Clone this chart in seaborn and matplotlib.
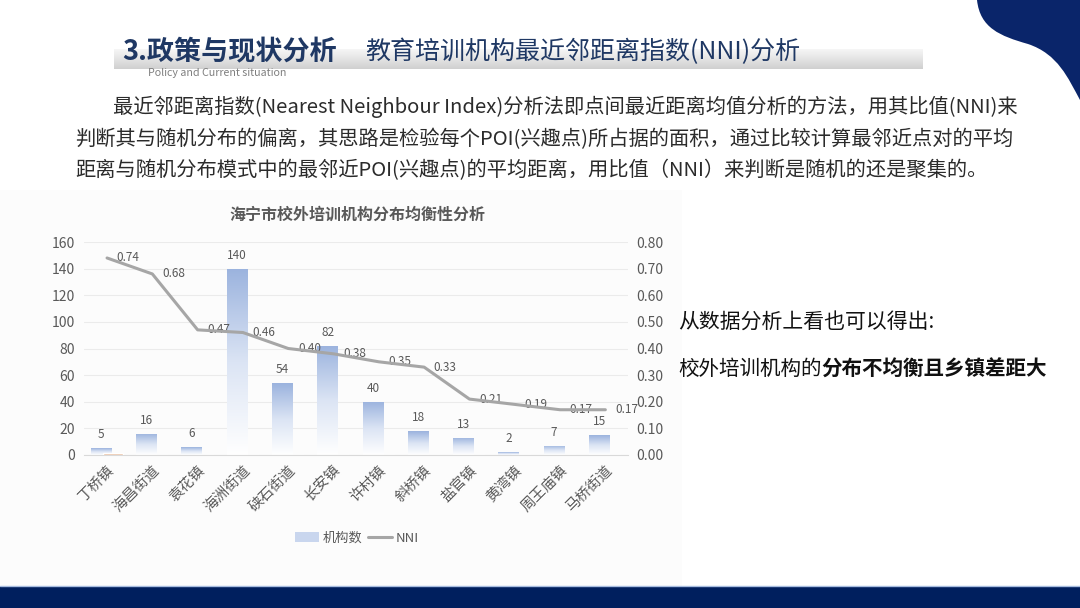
import numpy as np
import pandas as pd
import seaborn as sns
import matplotlib.pyplot as plt
from matplotlib.patches import Rectangle, PathPatch, Patch
from matplotlib.path import Path
from matplotlib.lines import Line2D
from matplotlib.colors import LinearSegmentedColormap

# %% data
towns = ['丁桥镇', '海昌街道', '袁花镇', '海洲街道', '硖石街道', '长安镇',
         '许村镇', '斜桥镇', '盐官镇', '黄湾镇', '周王庙镇', '马桥街道']
counts = [5, 16, 6, 140, 54, 82, 40, 18, 13, 2, 7, 15]
nni = [0.74, 0.68, 0.47, 0.46, 0.40, 0.38, 0.35, 0.33, 0.21, 0.19, 0.17, 0.17]
other = [1.2, 0, 0, 0, 0, 0, 0, 0, 0, 0, 0, 0]
left_ticks = [0, 20, 40, 60, 80, 100, 120, 140, 160]
right_ticks = [0.0, 0.1, 0.2, 0.3, 0.4, 0.5, 0.6, 0.7, 0.8]

df = pd.DataFrame({'town': towns, '机构数': counts, 'NNI': nni, 'other': other})
df['idx'] = np.arange(len(towns))

sns.set_style('white')
plt.rcParams['font.family'] = ['Noto Sans CJK SC', 'DejaVu Sans']

W, H = 1080, 608
fig = plt.figure(figsize=(W / 100, H / 100), dpi=100)
fig.patch.set_facecolor('white')

# %% slide background (pixel coordinates)
bg = fig.add_axes([0, 0, 1, 1], zorder=0)
bg.set_xlim(0, W)
bg.set_ylim(H, 0)
bg.axis('off')

# faint panel behind chart
bg.add_patch(Rectangle((0, 190), 682, 396, color='#fcfcfc', lw=0))

# title band
band = np.linspace(0, 1, 64).reshape(-1, 1)
band_cmap = LinearSegmentedColormap.from_list('band', ['#f6f6f6', '#e4e4e4', '#d0d0d0'])
bg.imshow(band, cmap=band_cmap, extent=(114, 923, 69, 49), origin='upper',
          aspect='auto', zorder=1)

# navy corner shape
verts = [(977, 0), (980, 28), (1000, 36), (1028, 44),
         (1058, 54), (1068, 78), (1080, 100), (1080, 0), (977, 0)]
codes = [Path.MOVETO, Path.CURVE4, Path.CURVE4, Path.CURVE4,
         Path.CURVE4, Path.CURVE4, Path.CURVE4, Path.LINETO, Path.CLOSEPOLY]
bg.add_patch(PathPatch(Path(verts, codes), color='#0a256a', lw=0, zorder=2))

# bottom band
bg.add_patch(Rectangle((0, 586), W, 22, color='#001f5e', lw=0, zorder=2))
bg.plot([0, W], [586, 586], color='#a8bde0', lw=1, zorder=3)

navy = '#1f3864'
bg.text(122, 52, '3.政策与现状分析', fontsize=19.5, fontweight='bold', color=navy,
        va='center', ha='left', zorder=4)
bg.text(365, 52, '教育培训机构最近邻距离指数(NNI)分析', fontsize=18, fontweight='medium',
        color=navy, va='center', ha='left', zorder=4)
bg.text(148, 73, 'Policy and Current situation', fontsize=7.7, color='#7f7f7f',
        va='center', ha='left', zorder=4)

para = ['最近邻距离指数(Nearest Neighbour Index)分析法即点间最近距离均值分析的方法，用其比值(NNI)来',
        '判断其与随机分布的偏离，其思路是检验每个POI(兴趣点)所占据的面积，通过比较计算最邻近点对的平均',
        '距离与随机分布模式中的最邻近POI(兴趣点)的平均距离，用比值（NNI）来判断是随机的还是聚集的。']
for k, line in enumerate(para):
    bg.text(113 if k == 0 else 75, 107 + 32 * k, line, fontsize=14.6, color='#2b2b2b',
            va='center', ha='left', zorder=4)

bg.text(678, 322, '从数据分析上看也可以得出:', fontsize=15, color='#111111',
        va='center', ha='left', zorder=4)
t1 = bg.text(678, 369, '校外培训机构的', fontsize=14.8, color='#111111',
             va='center', ha='left', zorder=4)
fig.canvas.draw()
bb = t1.get_window_extent().transformed(bg.transData.inverted())
bg.text(bb.x1, 369, '分布不均衡且乡镇差距大', fontsize=14.8, fontweight='bold',
        color='#111111', va='center', ha='left', zorder=4)

# %% chart
x0 = 84.4
step = 45.3
ax = fig.add_axes([x0 / W, (H - 455) / H, step * 12 / W, 213 / H], zorder=3)
ax.patch.set_alpha(0)

sns.barplot(data=df, x='idx', y='机构数', ax=ax, color='#9db4de', width=0.46,
            native_scale=True, zorder=2)
blue_bars = list(ax.patches)
sns.barplot(data=df, x='idx', y='other', ax=ax, color='#f4b183', width=0.44,
            native_scale=True, zorder=3)
orange_bars = [p for p in ax.patches if p not in blue_bars]

bar_cmap = LinearSegmentedColormap.from_list('bar', ['#ffffff', '#dbe4f4', '#9bb3de'])
grad = np.linspace(0, 1, 128).reshape(-1, 1)
for p in blue_bars:
    p.set_x(p.get_x() - 0.13)
    x, w, h = p.get_x(), p.get_width(), p.get_height()
    p.set_facecolor('none')
    p.set_edgecolor('none')
    im = ax.imshow(grad, cmap=bar_cmap, extent=(x, x + w, 0, h), origin='lower',
                   aspect='auto', zorder=2)
    im.set_clip_path(p)
for p in orange_bars:
    p.set_x(p.get_x() + 0.13)

for i, c in enumerate(counts):
    ax.annotate(str(c), (i - 0.13, c), xytext=(0, 5), textcoords='offset points',
                ha='center', va='bottom', fontsize=8.5, color='#595959')

ax.set_xlim(-0.5, 11.5)
ax.set_ylim(0, 160)
ax.set_yticks(left_ticks)
ax.set_xticks(df['idx'])
ax.set_xticklabels(towns, rotation=45, ha='right', rotation_mode='anchor',
                   fontsize=10.5, color='#595959')
ax.tick_params(axis='y', labelsize=10, colors='#595959', length=0, pad=7)
ax.tick_params(axis='x', length=0, pad=6)
ax.yaxis.grid(True, color='#ebebeb', lw=0.8, zorder=0)
ax.set_axisbelow(True)
for s in ['top', 'right', 'left']:
    ax.spines[s].set_visible(False)
ax.spines['bottom'].set_color('#d9d9d9')
ax.set_xlabel('')
ax.set_ylabel('')

ax2 = ax.twinx()
sns.lineplot(data=df, x='idx', y='NNI', ax=ax2, color='#a6a6a6', lw=2.2, zorder=4)
for i, v in enumerate(nni):
    ax2.annotate(f'{v:.2f}', (i, v), xytext=(7, 0), textcoords='offset points',
                 ha='left', va='center', fontsize=8.5, color='#595959')
ax2.set_ylim(0, 0.8)
ax2.set_yticks(right_ticks)
ax2.set_yticklabels([f'{t:.2f}' for t in right_ticks])
ax2.tick_params(axis='y', labelsize=10, colors='#595959', length=0, pad=6)
for s in ax2.spines.values():
    s.set_visible(False)
ax2.set_ylabel('')
ax2.set_xlim(-0.5, 11.5)

fig.text(357 / W, 1 - 215 / H, '海宁市校外培训机构分布均衡性分析', fontsize=11.5,
         fontweight='bold', color='#595959', ha='center', va='center')

handles = [Patch(facecolor='#c9d6ee', edgecolor='none'),
           Line2D([0], [0], color='#a6a6a6', lw=2.2)]
fig.legend(handles, ['机构数', 'NNI'], loc='center', bbox_to_anchor=(357 / W, 1 - 538 / H),
           ncol=2, frameon=False, fontsize=9.5, handlelength=1.8, handletextpad=0.3,
           columnspacing=0.4, labelcolor='#595959')

fig.savefig('out.png', dpi=100)
